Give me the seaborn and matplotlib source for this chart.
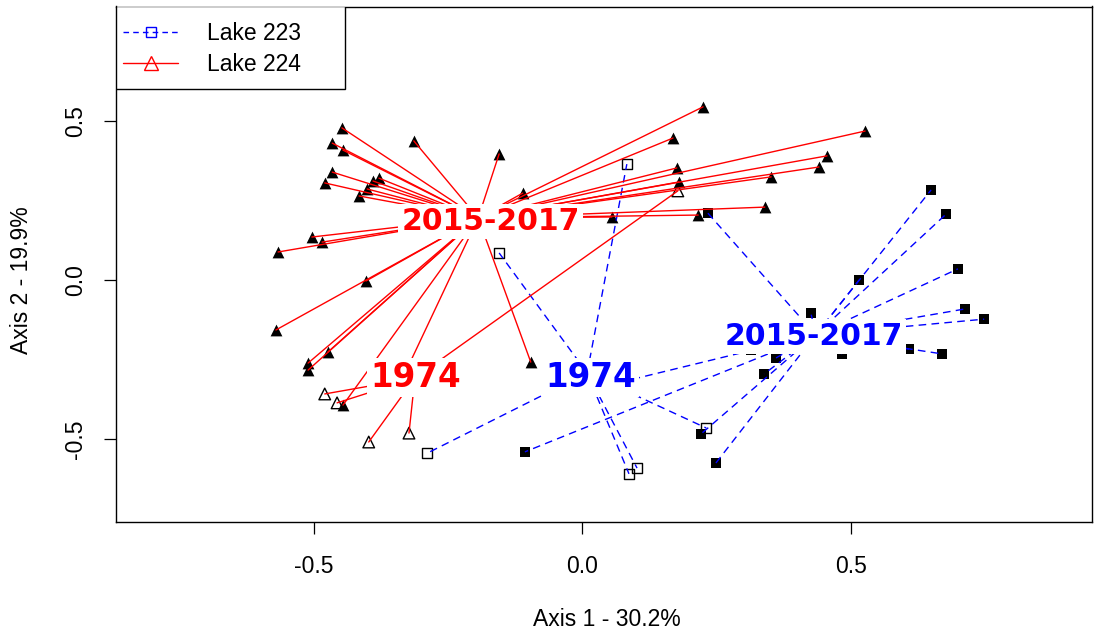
import numpy as np
import pandas as pd
import matplotlib
matplotlib.use("Agg")
import matplotlib.pyplot as plt
from matplotlib.lines import Line2D
from matplotlib.patches import Rectangle
import seaborn as sns

# ---------------- data ----------------
# Lake 224, 2015-2017 (filled triangles)
l224_2015_x = [-0.448, -0.466, -0.446, -0.314, -0.466, -0.480, -0.390, -0.379, -0.401, -0.416,
               -0.504, -0.485, -0.567, -0.403, -0.571, -0.474, -0.511, -0.511, -0.446, -0.096,
               -0.155, -0.111, 0.225, 0.169, 0.527, 0.456, 0.441, 0.176, 0.180, 0.352,
               0.340, 0.216, 0.055, -0.286, -0.340]
l224_2015_y = [0.478, 0.430, 0.408, 0.437, 0.339, 0.305, 0.311, 0.320, 0.286, 0.264,
               0.135, 0.119, 0.088, -0.003, -0.157, -0.226, -0.261, -0.283, -0.393, -0.258,
               0.396, 0.273, 0.544, 0.446, 0.468, 0.390, 0.355, 0.352, 0.308, 0.324,
               0.229, 0.204, 0.198, 0.157, -0.327]
# Lake 224, 1974 (open triangles)
l224_1974_x = [-0.480, -0.457, -0.398, -0.323, 0.178]
l224_1974_y = [-0.358, -0.386, -0.509, -0.481, 0.280]
# Lake 223, 1974 (open squares)
l223_1974_x = [0.083, -0.155, -0.289, 0.087, 0.102, 0.231]
l223_1974_y = [0.364, 0.085, -0.544, -0.609, -0.591, -0.465]
# Lake 223, 2015-2017 (filled squares)
l223_2015_x = [0.234, -0.107, 0.221, 0.249, 0.314, 0.339, 0.361, 0.426, 0.484, 0.516,
               0.609, 0.670, 0.650, 0.678, 0.700, 0.713, 0.749, 0.020]
l223_2015_y = [0.210, -0.540, -0.484, -0.575, -0.220, -0.295, -0.245, -0.104, -0.232, 0.000,
               -0.217, -0.232, 0.283, 0.207, 0.035, -0.091, -0.123, -0.342]

# group centroids (spider centres) and label anchors
centroid_x = {"224_2015": -0.194, "224_1974": -0.312, "223_1974": 0.009, "223_2015": 0.435}
centroid_y = {"224_2015": 0.195, "224_1974": -0.308, "223_1974": -0.292, "223_2015": -0.172}
label_text = {"224_2015": "2015-2017", "224_1974": "1974", "223_1974": "1974", "223_2015": "2015-2017"}
label_x = {"224_2015": -0.171, "224_1974": -0.310, "223_1974": 0.016, "223_2015": 0.432}
label_y = {"224_2015": 0.184, "224_1974": -0.306, "223_1974": -0.306, "223_2015": -0.178}

legend_labels = ["Lake 223", "Lake 224"]
xlabel = "Axis 1 - 30.2%"
ylabel = "Axis 2 - 19.9%"
ticks = [-0.5, 0.0, 0.5]
tick_labels = ["-0.5", "0.0", "0.5"]

RED = "#FF0000"
BLUE = "#0000FF"

# ---------------- style ----------------
sns.set_theme(style="white")
plt.rcParams["font.family"] = ["Liberation Sans", "DejaVu Sans"]

fig = plt.figure(figsize=(10.94, 6.34), dpi=100)
W, H = 1094, 634
ax = fig.add_axes([116 / W, 1 - 522 / H, 976 / W, 515.5 / H])

x0, ppx = 582.3, 536.6
y0, ppy = 280.0, 318.3
ax.set_xlim((116 - x0) / ppx, (1092 - x0) / ppx)
ax.set_ylim((y0 - 522) / ppy, (y0 - 6.5) / ppy)

# ---------------- points ----------------
sns.scatterplot(x=l224_2015_x, y=l224_2015_y, marker="^", color="black", s=72,
                linewidth=0, ax=ax, zorder=1)
sns.scatterplot(x=l223_2015_x, y=l223_2015_y, marker="s", color="black", s=58,
                linewidth=0, ax=ax, zorder=1)
sns.scatterplot(x=l224_1974_x, y=l224_1974_y, marker="^", facecolor="none",
                edgecolor="black", s=70, linewidth=1.0, ax=ax, zorder=1)
sns.scatterplot(x=l223_1974_x, y=l223_1974_y, marker="s", facecolor="none",
                edgecolor="black", s=56, linewidth=1.0, ax=ax, zorder=1)

# ---------------- spider lines ----------------
def spider(xs, ys, key):
    rows = []
    for i, (px, py) in enumerate(zip(xs, ys)):
        rows.append({"x": centroid_x[key], "y": centroid_y[key], "seg": i})
        rows.append({"x": px, "y": py, "seg": i})
    return pd.DataFrame(rows)

for xs, ys, key in [(l223_1974_x, l223_1974_y, "223_1974"), (l223_2015_x, l223_2015_y, "223_2015")]:
    sns.lineplot(data=spider(xs, ys, key), x="x", y="y", units="seg", estimator=None,
                 sort=False, color=BLUE, linewidth=1.0, linestyle=(0, (5.5, 3.8)),
                 ax=ax, zorder=2)
for xs, ys, key in [(l224_1974_x, l224_1974_y, "224_1974"), (l224_2015_x, l224_2015_y, "224_2015")]:
    sns.lineplot(data=spider(xs, ys, key), x="x", y="y", units="seg", estimator=None,
                 sort=False, color=RED, linewidth=1.0, ax=ax, zorder=2)

# ---------------- centroid labels ----------------
for key in ["224_2015", "224_1974", "223_1974", "223_2015"]:
    col = RED if key.startswith("224") else BLUE
    fs = 21.5 if label_text[key] == "2015-2017" else 23.5
    ax.text(label_x[key], label_y[key], label_text[key], color=col, fontsize=fs,
            fontweight="bold", family="DejaVu Sans", ha="center", va="center", zorder=5,
            bbox=dict(boxstyle="square,pad=0.1", facecolor="white", edgecolor="none"))

# ---------------- axes ----------------
ax.set_xticks(ticks)
ax.set_xticklabels(tick_labels)
ax.set_yticks(ticks)
ax.set_yticklabels(tick_labels, rotation=90, va="center")
ax.tick_params(axis="both", direction="out", length=8.6, width=0.9, color="black",
               labelsize=16.5, labelcolor="black", bottom=True, left=True)
ax.tick_params(axis="x", pad=15)
ax.tick_params(axis="y", pad=12)
for sp in ax.spines.values():
    sp.set_visible(True)
    sp.set_color("black")
    sp.set_linewidth(1.0)
ax.set_xlabel(xlabel, fontsize=16.5, color="black")
ax.set_ylabel(ylabel, fontsize=16.5, color="black")
ax.xaxis.set_label_coords((607 - 116) / 976, -(620 - 522) / 515.5)
ax.yaxis.set_label_coords(-(116 - 22) / 976, (522 - 280) / 515.5)
ax.xaxis.label.set_va("center")
ax.yaxis.label.set_va("center")
ax.grid(False)

# ---------------- legend ----------------
frame = Rectangle((0, 1 - 82.5 / 515.5), 229 / 976, 82.5 / 515.5, transform=ax.transAxes,
                  facecolor="white", edgecolor="black", linewidth=1.0, zorder=6)
ax.add_patch(frame)
handles = [
    Line2D([0], [0], color=BLUE, lw=1.0, ls=(0, (4, 3)), marker="s", mfc="none",
           mec=BLUE, ms=7, mew=1.0),
    Line2D([0], [0], color=RED, lw=1.0, marker="^", mfc="none", mec=RED, ms=10, mew=1.0),
]
leg = ax.legend(handles, legend_labels, loc="upper left",
                bbox_to_anchor=((123 - 116) / 976, 1 - (22.3 - 6.5) / 515.5),
                borderaxespad=0, borderpad=0, frameon=False, fontsize=16.5,
                handlelength=2.4, handletextpad=1.27, labelspacing=0.33)
leg.set_zorder(7)
for t in leg.get_texts():
    t.set_color("black")

fig.savefig("out.png", dpi=100, facecolor="white")
